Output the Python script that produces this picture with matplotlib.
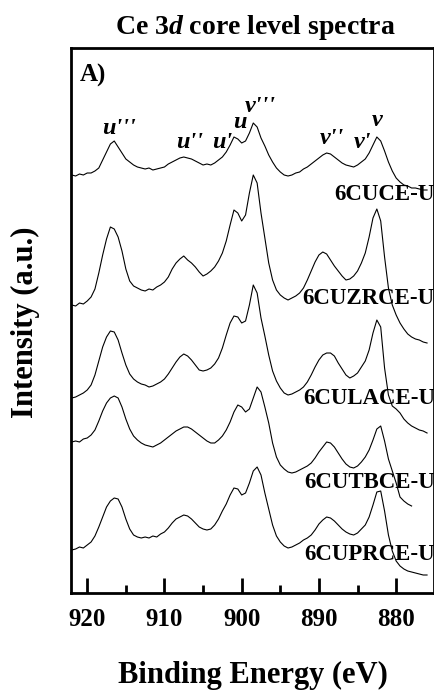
import numpy as np
import matplotlib
matplotlib.use("Agg")
import matplotlib.pyplot as plt
from matplotlib.ticker import MultipleLocator

plt.rcParams['font.family'] = 'Liberation Serif'
plt.rcParams['font.weight'] = 'bold'
plt.rcParams['mathtext.fontset'] = 'custom'
plt.rcParams['mathtext.rm'] = 'Liberation Serif:bold'
plt.rcParams['mathtext.it'] = 'Liberation Serif:bold:italic'

# binding energy grid (eV), 0.5 eV step
energy = np.arange(922.0, 875.9, -0.5)

# stacked Ce 3d spectra, offsets already included (a.u.)
cuce = [418, 417, 419, 418, 420, 420, 422, 425, 433, 441, 449, 452, 446, 440, 434, 431,
        428, 426, 425, 424, 425, 423, 424, 425, 426, 429, 431, 433, 435, 436, 435, 434,
        432, 430, 428, 429, 428, 430, 433, 436, 441, 448, 456, 454, 450, 452, 460, 470,
        466, 455, 447, 438, 431, 425, 421, 418, 417, 418, 420, 421, 424, 426, 429, 432,
        435, 438, 440, 439, 436, 433, 430, 428, 427, 426, 428, 431, 434, 440, 448, 456,
        452, 442, 431, 422, 415, 411, 408, 407, 405, 405, 404, 403, 403]
cuzrce = [288, 287, 290, 289, 292, 296, 304, 320, 338, 354, 366, 364, 356, 342, 324, 312,
          307, 305, 303, 302, 304, 303, 306, 308, 311, 316, 324, 330, 334, 337, 333, 330,
          326, 321, 317, 319, 322, 326, 332, 340, 352, 368, 383, 380, 372, 378, 400, 418,
          410, 380, 355, 330, 313, 303, 298, 295, 293, 295, 297, 300, 305, 313, 322, 331,
          338, 341, 339, 333, 327, 322, 317, 313, 314, 317, 322, 330, 340, 356, 375, 384,
          372, 336, 305, 288, 278, 270, 264, 259, 256, 254, 253, 251, 250]
culace = [195, 196, 198, 200, 203, 208, 218, 232, 246, 256, 262, 261, 253, 240, 228, 219,
          214, 211, 209, 208, 206, 207, 209, 211, 214, 219, 225, 231, 236, 239, 237, 233,
          228, 223, 222, 223, 225, 229, 235, 245, 258, 270, 277, 276, 270, 272, 288, 308,
          300, 275, 257, 238, 222, 212, 205, 200, 198, 199, 201, 203, 206, 211, 218, 226,
          233, 238, 240, 240, 237, 230, 224, 218, 215, 217, 220, 226, 232, 243, 260, 273,
          266, 225, 198, 187, 184, 180, 174, 170, 167, 165, 163, 162, 160]
cutbce = [151, 152, 151, 154, 155, 158, 163, 172, 182, 190, 195, 197, 195, 186, 174, 164,
          157, 153, 150, 148, 147, 146, 148, 150, 153, 156, 159, 162, 164, 166, 166, 164,
          161, 158, 155, 152, 150, 150, 153, 157, 163, 171, 181, 188, 186, 181, 184, 195,
          206, 201, 186, 170, 150, 136, 128, 124, 121, 120, 121, 123, 125, 127, 130, 135,
          141, 146, 151, 150, 146, 140, 134, 129, 126, 125, 127, 131, 136, 143, 153, 164,
          167, 152, 134, 122, 110, 96, 92, 89, 87]
cuprce = [43, 44, 46, 45, 48, 51, 57, 66, 76, 86, 92, 95, 94, 86, 74, 64,
          58, 56, 55, 56, 55, 57, 56, 59, 61, 65, 70, 74, 76, 78, 77, 74,
          70, 66, 64, 63, 64, 68, 74, 82, 89, 98, 105, 104, 98, 100, 110, 122,
          126, 118, 100, 84, 68, 57, 51, 47, 45, 46, 48, 50, 53, 55, 58, 63,
          69, 73, 76, 75, 72, 68, 64, 61, 59, 58, 60, 64, 68, 76, 88, 101,
          102, 82, 58, 42, 32, 27, 24, 22, 21, 20, 19, 18, 18]

spectra = [cuce, cuzrce, culace, cutbce, cuprce]
names = ['6CUCE-U', '6CUZRCE-U', '6CULACE-U', '6CUTBCE-U', '6CUPRCE-U']
name_y = [398, 295, 195, 111, 38]

# peak assignments on the top spectrum
peak_labels = ["u'''", "u''", "u'", "u", "v'''", "v''", "v'", "v"]
peak_x = [915.9, 906.7, 902.5, 900.3, 897.6, 888.3, 884.4, 882.5]
peak_y = [465, 451, 451, 470, 487, 455, 451, 472]

fig = plt.figure(figsize=(4.35, 6.95), dpi=100)
ax = fig.add_axes([71/435, 1-593/695, 363/435, 545/695])

for sp in spectra:
    ax.plot(energy[:len(sp)], sp, color='black', lw=0.8)

for name, y in zip(names, name_y):
    ax.text(875.0, y, name, ha='right', va='center', fontsize=16.5, fontweight='bold')

for lab, x, y in zip(peak_labels, peak_x, peak_y):
    ax.text(x, y, lab, ha='center', va='center', fontsize=17.5,
            fontweight='bold', style='italic')

ax.text(0.025, 0.97, 'A)', transform=ax.transAxes, ha='left', va='top',
        fontsize=18, fontweight='bold')

ax.set_xlim(922.1, 875.1)
ax.set_ylim(0, 545)
ax.set_yticks([])
ax.xaxis.set_major_locator(MultipleLocator(10))
ax.xaxis.set_minor_locator(MultipleLocator(5))
ax.tick_params(axis='x', which='major', direction='in', length=11, width=2,
               labelsize=18, pad=11)
ax.tick_params(axis='x', which='minor', direction='in', length=6, width=2)
for s in ax.spines.values():
    s.set_linewidth(2)

fig.text(255/435, 1-27/695, r'Ce 3$d$ core level spectra', ha='center', va='center',
         fontsize=20)
fig.text(25/435, 1-322/695, 'Intensity (a.u.)', ha='center', va='center',
         rotation=90, fontsize=22)
fig.text(253/435, 1-675/695, 'Binding Energy (eV)', ha='center', va='center',
         fontsize=22)

fig.savefig('out.png', dpi=100)
